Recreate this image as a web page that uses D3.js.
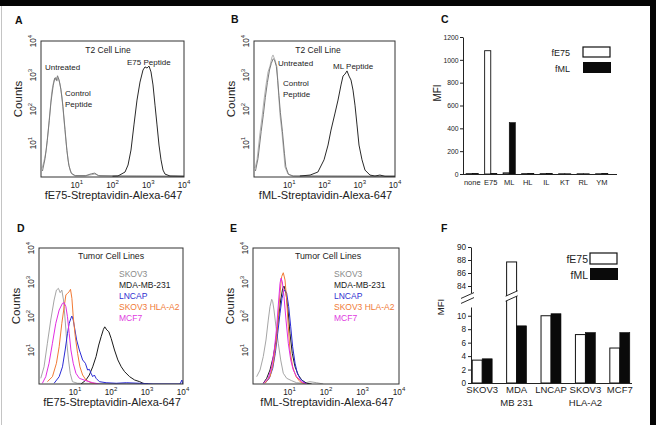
<!DOCTYPE html>
<html>
<head>
<meta charset="utf-8">
<script src="https://cdn.jsdelivr.net/npm/d3@7"></script>
<style>
  body { margin: 0; background: #fff; }
  svg { display: block; font-family: "Liberation Sans", Arial, sans-serif; }
</style>
</head>
<body>
<script>
// ---- data: flow histograms, [fluorescence, counts] ----
const aUntreated = [[1.07,1.8],[1.2,2.8],[1.4,6],[1.6,24],[1.8,93],[2.0,320],[2.3,710],[2.6,870],[2.8,660],[3.0,820],[3.4,550],[3.9,210],[4.4,47],[5.0,11],[5.7,3.2],[6.5,1.6],[7.4,1.2],[9,1.07],[17,1.07],[23,1.14],[32,1.22],[45,1.07],[160,1.07],[10000,1.05]];
const aControl = [[1.1,1.5],[1.3,3.5],[1.5,12],[1.7,45],[1.9,160],[2.2,500],[2.45,820],[2.7,690],[2.9,950],[3.2,720],[3.6,380],[4.1,120],[4.7,25],[5.3,6],[6.0,2.2],[7,1.3],[9,1.1],[18,1.1],[26,1.25],[32,1.3],[40,1.1],[150,1.07],[10000,1.05]];
const aE75 = [[100,1.05],[142,1.07],[224,1.4],[272,2.25],[329,6.2],[398,34],[485,183],[588,620],[713,1400],[811,1730],[923,1600],[1050,1830],[1194,1230],[1358,510],[1546,130],[1758,34],[2000,8.7],[2275,3.2],[2588,1.6],[2940,1.22],[4055,1.07],[10000,1.05]];

const bUntreated = [[1.07,1.84],[1.22,3.2],[1.48,20],[1.69,58],[1.92,183],[2.19,510],[2.5,1230],[2.84,1830],[3.24,3390],[3.46,3890],[3.94,2760],[4.49,1730],[4.8,510],[5.12,183],[5.47,66],[6.22,20],[7.09,4.4],[7.57,1.97],[9.2,1.22],[12,1.07],[10000,1.05]];
const bControl = [[1.1,1.5],[1.3,3.5],[1.6,22],[1.85,70],[2.1,220],[2.4,600],[2.75,1400],[3.1,2200],[3.5,3000],[3.8,2800],[4.3,1800],[4.7,700],[5.1,250],[5.6,80],[6.4,22],[7.3,5],[8,2],[9.5,1.2],[13,1.07],[10000,1.05]];
const bML = [[20,1.07],[39,1.14],[65,1.4],[97,3.2],[126,8.7],[153,24],[199,76],[242,183],[294,510],[335,930],[381,1060],[435,1320],[496,930],[565,710],[644,360],[733,130],[836,34],[953,8.7],[1159,3.2],[1409,1.6],[1953,1.14],[2700,1.07],[3730,1.14],[5200,1.05],[10000,1.05]];

const dSKOV3 = [[1.12,1.47],[1.38,3.2],[1.71,15.8],[2.12,76],[2.63,295],[3.05,580],[3.47,650],[3.87,485],[4.31,580],[4.79,295],[5.33,76],[5.95,15.8],[6.6,5.1],[7.36,2.07],[8.5,1.17],[11.8,1.05],[10000,1.0]];
const dMDA = [[14.7,1.0],[20.2,1.31],[25,1.84],[31,3.2],[38.5,6.4],[45.6,14],[53.2,24.6],[61.7,40.6],[67.1,48],[76.4,39],[86.9,34.5],[101,22],[125,10],[155,5.1],[193,3.2],[239,2.3],[329,1.64],[454,1.31],[627,1.17],[776,1.05],[1070,1.0]];
const dLNCAP = [[2.63,1.05],[3.63,1.64],[4.49,3.2],[5.33,10],[6.19,31],[6.9,61],[7.7,86],[8.2,100],[8.93,76],[9.97,39],[11.1,19.7],[13.2,10],[16.3,5.1],[19.4,4.07],[22.4,2.58],[25.1,2.7],[27.9,2.07],[31,1.64],[34.5,1.84],[38.5,1.47],[47.7,1.17],[73.4,1.09],[140,1.05],[266,1.09],[627,1.05],[1477,1.0],[8250,1.0],[9340,1.31],[9800,1.0]];
const dHLA = [[1.71,1.17],[2.36,1.64],[3.05,4.07],[3.63,12.5],[4.31,61],[5.0,188],[5.58,415],[6.18,465],[6.9,518],[7.5,610],[8.2,331],[8.93,95],[10.2,24.6],[11.8,8],[13.7,3.2],[16.3,1.84],[20.2,1.31],[27.9,1.09],[38.5,1.0]];
const dMCF7 = [[1.24,1.05],[1.54,1.64],[1.9,4.07],[2.36,15.8],[2.93,61],[3.63,150],[4.49,236],[5.0,246],[5.58,188],[6.18,95],[6.9,31],[7.7,10],[8.93,4.07],[10.6,2.07],[13.2,1.47],[20.2,1.25],[31,1.09],[47.7,1.0]];

const eSKOV3 = [[1.26,1.64],[1.56,2.58],[1.91,6.4],[2.27,19.7],[2.62,76],[2.92,188],[3.25,310],[3.47,263],[3.76,150],[4.27,48],[4.93,15.8],[5.74,5.1],[6.76,2.07],[8.38,1.47],[11.5,1.25],[15.7,1.09],[23.9,1.05],[36.4,1.17],[55.6,1.09],[84,1.0]];
const eMDA = [[1.91,1.05],[2.37,1.47],[2.92,2.58],[3.6,6.4],[4.27,19.7],[4.93,76],[5.74,295],[6.51,650],[7.07,760],[8.02,465],[9.1,150],[10.3,31],[11.9,8],[14.2,3.2],[17.4,1.84],[21.6,1.31],[29.6,1.05],[40.6,1.0]];
const eLNCAP = [[2.13,1.05],[2.8,1.47],[3.47,2.9],[4.08,8],[4.75,31],[5.5,120],[6.23,331],[6.94,518],[7.53,580],[8.38,465],[9.51,188],[10.8,48],[12.2,12.5],[14.2,4.07],[16.4,2.07],[19.4,1.47],[23.9,1.17],[29.6,1.0]];
const eHLA = [[2.13,1.05],[2.92,1.64],[3.6,4.07],[4.27,15.8],[4.93,95],[5.5,465],[6.1,1440],[6.76,1870],[7.53,1150],[8.38,295],[9.27,48],[10.3,10],[12.2,3.2],[15.1,1.64],[19.4,1.17],[26.6,1.0]];
const eMCF7 = [[1.91,1.05],[2.62,1.47],[3.25,3.2],[3.83,10],[4.46,48],[5.06,295],[5.5,915],[5.85,1290],[6.35,1020],[7.07,370],[8.02,76],[9.27,15.8],[10.8,5.1],[12.7,2.58],[15.7,1.64],[21.6,1.17],[29.6,1.0]];

const decades = [10, 100, 1000, 10000];

// ---- data: MFI bar charts ----
const cCategories = ['none', 'E75', 'ML', 'HL', 'IL', 'KT', 'RL', 'YM'];
const cE75 = [3, 1080, 10, 3, 3, 2, 2, 2];
const cML = [3, 3, 450, 3, 4, 2, 2, 3];
const cTicks = [0, 200, 400, 600, 800, 1000, 1200];

const fCategories = ['SKOV3', 'MDA MB 231', 'LNCAP', 'SKOV3 HLA-A2', 'MCF7'];
const fLine1 = ['SKOV3', 'MDA', 'LNCAP', 'SKOV3', 'MCF7'];
const fLine2 = ['', 'MB 231', '', 'HLA-A2', ''];
const fE75 = [3.4, 87.7, 10.0, 7.2, 5.2];
const fML = [3.6, 8.5, 10.3, 7.5, 7.5];
const fTicksLow = [0, 2, 4, 6, 8, 10];
const fTicksHigh = [84, 86, 88, 90];

const cellLines = ['SKOV3', 'MDA-MB-231', 'LNCAP', 'SKOV3 HLA-A2', 'MCF7'];
const cellColors = ['#a6a6a6', '#1a1a1a', '#2b2bd6', '#f27a35', '#e22de2'];
const cellText = ['#8a8a8a', '#1a1a1a', '#3030d0', '#f07a38', '#e03ae0'];

// ---- canvas ----
const W = 658, H = 425;
const svg = d3.select('body').append('svg').attr('width', W).attr('height', H);
const ink = '#222';

svg.append('rect').attr('x', 0).attr('y', 0).attr('width', 656).attr('height', 6).attr('fill', '#050505');
svg.append('rect').attr('x', 650).attr('y', 0).attr('width', 6).attr('height', H).attr('fill', '#050505');
svg.append('line').attr('x1', 1.5).attr('x2', 1.5).attr('y1', 6).attr('y2', H)
  .attr('stroke', '#c4c4c4').attr('stroke-width', 1);

function panelLetter(t, x, y) {
  svg.append('text').text(t).attr('x', x).attr('y', y)
    .attr('font-size', 10.5).attr('font-weight', 'bold').attr('fill', '#111');
}

function label(t, x, y, size, opts = {}) {
  return svg.append('text').text(t).attr('x', x).attr('y', y)
    .attr('font-size', size).attr('fill', opts.fill || ink)
    .attr('text-anchor', opts.anchor || 'start');
}

// ---- log-log histogram panel ----
function histogram(cfg) {
  const x = d3.scaleLog().domain([1, 1e4]).range([cfg.x0, cfg.x1]);
  const y = d3.scaleLog().domain([1, 1e4]).range([cfg.y1, cfg.y0]);
  const g = svg.append('g');

  const clipId = 'clip-' + cfg.id;
  svg.append('clipPath').attr('id', clipId).append('rect')
    .attr('x', cfg.x0).attr('y', cfg.y0).attr('width', cfg.x1 - cfg.x0).attr('height', cfg.y1 - cfg.y0);

  const line = d3.line().x(d => x(d[0])).y(d => y(d[1]));
  cfg.series.forEach(s => {
    g.append('path').attr('clip-path', `url(#${clipId})`)
      .attr('d', line(s.data)).attr('fill', 'none')
      .attr('stroke', s.color).attr('stroke-width', 1).attr('stroke-linejoin', 'round');
  });

  g.append('rect').attr('x', cfg.x0).attr('y', cfg.y0)
    .attr('width', cfg.x1 - cfg.x0).attr('height', cfg.y1 - cfg.y0)
    .attr('fill', 'none').attr('stroke', '#333').attr('stroke-width', 1);

  decades.forEach(v => {
    const t = g.append('text').attr('x', x(v)).attr('y', cfg.y1 + 10.5)
      .attr('text-anchor', 'middle').attr('font-size', 8.2).attr('fill', ink);
    t.append('tspan').text('10');
    t.append('tspan').attr('dy', -4).attr('font-size', 6).text(Math.round(Math.log10(v)));

    const r = g.append('text').attr('transform', `translate(${cfg.x0 - 5},${y(v)}) rotate(-90)`)
      .attr('text-anchor', 'middle').attr('font-size', 8.2).attr('fill', ink);
    r.append('tspan').text('10');
    r.append('tspan').attr('dy', -4).attr('font-size', 6).text(Math.round(Math.log10(v)));
  });

  g.append('text').text(cfg.xTitle).attr('x', (cfg.x0 + cfg.x1) / 2 + 1).attr('y', cfg.y1 + 22)
    .attr('text-anchor', 'middle').attr('font-size', 11).attr('fill', ink);
  g.append('text').text('Counts')
    .attr('transform', `translate(${cfg.x0 - 19},${(cfg.y0 + cfg.y1) / 2 - 10}) rotate(-90)`)
    .attr('text-anchor', 'middle').attr('font-size', 11.5).attr('fill', ink);
}

// A
panelLetter('A', 15, 24);
histogram({
  id: 'a', x0: 41, x1: 184, y0: 41, y1: 177, xTitle: 'fE75-Streptavidin-Alexa-647',
  series: [
    { data: aUntreated, color: '#b4b4b4' },
    { data: aControl, color: '#7a7a7a' },
    { data: aE75, color: '#2a2a2a' }
  ]
});
label('T2 Cell Line', 108, 52.5, 8.5, { anchor: 'middle' });
label('Untreated', 45, 70, 8);
label('Control', 65, 95.5, 8);
label('Peptide', 65, 106.5, 8);
label('E75 Peptide', 127, 65, 8);

// B
panelLetter('B', 231, 23);
histogram({
  id: 'b', x0: 254, x1: 395, y0: 41, y1: 177, xTitle: 'fML-Streptavidin-Alexa-647',
  series: [
    { data: bUntreated, color: '#b4b4b4' },
    { data: bControl, color: '#7a7a7a' },
    { data: bML, color: '#2a2a2a' }
  ]
});
label('T2 Cell Line', 318, 52.5, 8.5, { anchor: 'middle' });
label('Untreated', 278, 66, 8);
label('Control', 283, 85.5, 8);
label('Peptide', 283, 97, 8);
label('ML Peptide', 333, 69, 8);

// D
panelLetter('D', 17, 232);
histogram({
  id: 'd', x0: 39, x1: 183, y0: 248, y1: 384, xTitle: 'fE75-Streptavidin-Alexa-647',
  series: [dSKOV3, dMDA, dLNCAP, dHLA, dMCF7].map((d, i) => ({ data: d, color: cellColors[i] }))
});
label('Tumor Cell Lines', 111, 258.5, 8.8, { anchor: 'middle' });
cellLines.forEach((n, i) => label(n, 119, 276.7 + i * 11.1, 8.5, { fill: cellText[i] }));

// E
panelLetter('E', 230, 232);
histogram({
  id: 'e', x0: 253, x1: 399, y0: 248, y1: 384, xTitle: 'fML-Streptavidin-Alexa-647',
  series: [eSKOV3, eMDA, eLNCAP, eHLA, eMCF7].map((d, i) => ({ data: d, color: cellColors[i] }))
});
label('Tumor Cell Lines', 328, 258.5, 8.8, { anchor: 'middle' });
cellLines.forEach((n, i) => label(n, 334, 276.7 + i * 11.1, 8.5, { fill: cellText[i] }));

// ---- C: MFI for peptide panel ----
panelLetter('C', 441, 23);
const cx = d3.scaleBand().domain(cCategories).range([463, 611]).paddingInner(0.34).paddingOuter(0.17);
const cy = d3.scaleLinear().domain([0, 1200]).range([174, 37]);
const cg = svg.append('g');

cg.selectAll('rect.w').data(cCategories).enter().append('rect')
  .attr('x', d => cx(d)).attr('width', cx.bandwidth() / 2)
  .attr('y', (d, i) => cy(cE75[i])).attr('height', (d, i) => cy(0) - cy(cE75[i]))
  .attr('fill', '#fff').attr('stroke', '#111').attr('stroke-width', 0.9);
cg.selectAll('rect.b').data(cCategories).enter().append('rect')
  .attr('x', d => cx(d) + cx.bandwidth() / 2).attr('width', cx.bandwidth() / 2)
  .attr('y', (d, i) => cy(cML[i])).attr('height', (d, i) => cy(0) - cy(cML[i]))
  .attr('fill', '#0a0a0a').attr('stroke', '#0a0a0a').attr('stroke-width', 0.6);

const cYAxis = cg.append('g').attr('transform', 'translate(463,0)')
  .call(d3.axisLeft(cy).tickValues(cTicks).tickFormat(d3.format('d')).tickSize(3).tickSizeOuter(0).tickPadding(1.5));
cYAxis.selectAll('text').attr('font-size', 6.8).attr('font-family', '"Liberation Sans", Arial, sans-serif').attr('fill', ink);
cYAxis.selectAll('line,path').attr('stroke', '#222');

const cXAxis = cg.append('g').attr('transform', 'translate(0,174)')
  .call(d3.axisBottom(cx).tickSize(0).tickPadding(6));
cXAxis.select('.domain').remove();
cXAxis.selectAll('text').attr('font-size', 7.5).attr('font-family', '"Liberation Sans", Arial, sans-serif').attr('fill', ink);
cg.append('line').attr('x1', 463).attr('x2', 617).attr('y1', 174.5).attr('y2', 174.5).attr('stroke', '#222');

cg.append('text').text('MFI').attr('transform', 'translate(441,93) rotate(-90)')
  .attr('text-anchor', 'middle').attr('font-size', 10).attr('fill', ink);

label('fE75', 570, 56, 9, { anchor: 'end' });
cg.append('rect').attr('x', 583).attr('y', 47).attr('width', 27).attr('height', 10)
  .attr('fill', '#fff').attr('stroke', '#111').attr('stroke-width', 1.2);
label('fML', 570, 72, 9, { anchor: 'end' });
cg.append('rect').attr('x', 583).attr('y', 62).attr('width', 28).attr('height', 11).attr('fill', '#0a0a0a');

// ---- F: MFI for tumor lines, broken axis ----
panelLetter('F', 441, 232);
const fx = d3.scaleBand().domain(fCategories).range([465, 637]).paddingInner(0.42).paddingOuter(0.21);
const fyLow = d3.scaleLinear().domain([0, 11.3]).range([383, 307]);
const fyHigh = d3.scaleLinear().domain([83, 90]).range([292.5, 247]);
const fy = v => (v > 11.3 ? fyHigh(v) : fyLow(v));
const fg = svg.append('g');

fg.selectAll('rect.w').data(fCategories).enter().append('rect')
  .attr('x', d => fx(d)).attr('width', fx.bandwidth() / 2)
  .attr('y', (d, i) => fy(fE75[i])).attr('height', (d, i) => fyLow(0) - fy(fE75[i]))
  .attr('fill', '#fff').attr('stroke', '#111').attr('stroke-width', 1);
fg.selectAll('rect.b').data(fCategories).enter().append('rect')
  .attr('x', d => fx(d) + fx.bandwidth() / 2).attr('width', fx.bandwidth() / 2)
  .attr('y', (d, i) => fy(fML[i])).attr('height', (d, i) => fyLow(0) - fy(fML[i]))
  .attr('fill', '#0a0a0a').attr('stroke', '#0a0a0a').attr('stroke-width', 0.6);

[fyLow, fyHigh].forEach((sc, k) => {
  const ax = fg.append('g').attr('transform', 'translate(471,0)')
    .call(d3.axisLeft(sc).tickValues(k ? fTicksHigh : fTicksLow).tickFormat(d3.format('d'))
      .tickSize(3).tickSizeOuter(0).tickPadding(2));
  ax.selectAll('text').attr('font-size', 8.2).attr('font-family', '"Liberation Sans", Arial, sans-serif').attr('fill', ink);
  ax.selectAll('line,path').attr('stroke', '#222');
});

// break marks on the axis and on the tall bar
function breakMark(xa, xb, yc) {
  const dy = (xb - xa) * 0.45;
  fg.append('path')
    .attr('d', `M${xa},${yc + 2.5 + dy / 2}L${xb},${yc + 2.5 - dy / 2}L${xb},${yc - 2.5 - dy / 2}L${xa},${yc - 2.5 + dy / 2}Z`)
    .attr('fill', '#fff');
  [-2.5, 2.5].forEach(o => {
    fg.append('line').attr('x1', xa).attr('y1', yc + o + dy / 2).attr('x2', xb).attr('y2', yc + o - dy / 2)
      .attr('stroke', '#111').attr('stroke-width', 0.9);
  });
}
breakMark(461, 474, 298);
breakMark(fx('MDA MB 231') - 1, fx('MDA MB 231') + fx.bandwidth() / 2 + 1, 296);

fg.append('line').attr('x1', 471).attr('x2', 632).attr('y1', 383.5).attr('y2', 383.5).attr('stroke', '#222');
fCategories.forEach((c, i) => {
  const xc = fx(c) + fx.bandwidth() / 2;
  label(fLine1[i], xc, 393, 9.5, { anchor: 'middle' });
  if (fLine2[i]) label(fLine2[i], xc, 406, 9.5, { anchor: 'middle' });
});

fg.append('text').text('MFI').attr('transform', 'translate(444,307) rotate(-90)')
  .attr('text-anchor', 'middle').attr('font-size', 9.5).attr('fill', ink);

label('fE75', 588, 262.5, 10.5, { anchor: 'end' });
fg.append('rect').attr('x', 590).attr('y', 253).attr('width', 27).attr('height', 11)
  .attr('fill', '#fff').attr('stroke', '#111').attr('stroke-width', 1.2);
label('fML', 588, 278.5, 10.5, { anchor: 'end' });
fg.append('rect').attr('x', 590).attr('y', 268).attr('width', 28).attr('height', 12).attr('fill', '#0a0a0a');
</script>
</body>
</html>
